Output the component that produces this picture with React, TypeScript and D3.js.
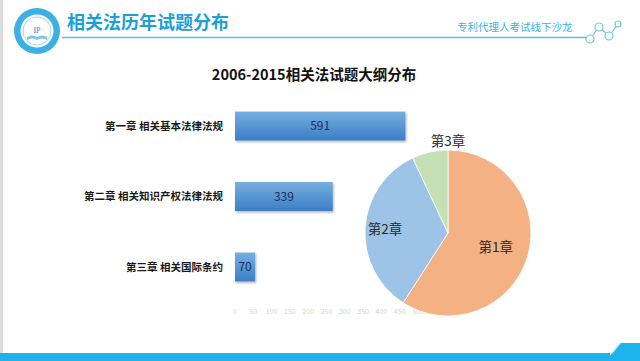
import { FC } from "react";
import * as d3 from "d3";

const W = 640;
const H = 361;

const chapters = ["第一章 相关基本法律法规", "第二章 相关知识产权法律法规", "第三章 相关国际条约"];
const counts = [591, 339, 70];
const pieLabels = ["第1章", "第2章", "第3章"];
const axisTicks = [0, 50, 100, 150, 200, 250, 300, 350, 400, 450, 500];
const pieColors = ["#f4b183", "#9dc3e6", "#c5e0b4"];

const FONT = "'Noto Sans CJK SC', 'Noto Sans', sans-serif";

const App: FC = () => {
  // bars and the printed axis don't share a scale in the original slide
  const x = d3.scaleLinear().domain([0, 600]).range([235, 408]);
  const xAxis = d3.scaleLinear().domain([0, 500]).range([235, 418]);
  const y = d3
    .scaleBand<string>()
    .domain(chapters)
    .range([70, 323])
    .paddingInner(0.59)
    .paddingOuter(0.59);

  const cx = 448;
  const cy = 233;
  const R = 83;
  const pie = d3.pie<number>().sort(null).value((d) => d);
  const arcs = pie(counts);
  const arc = d3.arc<d3.PieArcDatum<number>>().innerRadius(0).outerRadius(R);
  const labelR = [0.6, 0.76];
  const labelPos = (d: d3.PieArcDatum<number>, i: number): [number, number] => {
    if (i < labelR.length) {
      const r = R * labelR[i];
      return d3.arc<d3.PieArcDatum<number>>().innerRadius(r).outerRadius(r).centroid(d);
    }
    const r = R * 1.1;
    return [Math.sin(d.endAngle) * r, -Math.cos(d.endAngle) * r];
  };

  const molecule: [number, number][] = [
    [590, 39],
    [599, 27],
    [609, 36],
    [618, 24],
  ];

  return (
    <svg
      width={W}
      height={H}
      style={{ position: "absolute", left: 0, top: 0, display: "block", background: "#fff" }}
      fontFamily={FONT}
    >
      <defs>
        <linearGradient id="barGrad" x1="0" y1="0" x2="0" y2="1">
          <stop offset="0" stopColor="#76aee0" />
          <stop offset="1" stopColor="#3b7ec6" />
        </linearGradient>
        <filter id="shadow" x="-10%" y="-20%" width="130%" height="160%">
          <feDropShadow dx="1" dy="1.5" stdDeviation="1" floodColor="#000" floodOpacity="0.3" />
        </filter>
      </defs>

      {/* frame */}
      <rect x={0} y={0} width={3} height={H} fill="#dcdcdc" />
      <rect x={0} y={353} width={610} height={8} fill="#1cb4ea" />
      <path d="M620,343 L640,343 L640,361 L606,361 Z" fill="#1cb4ea" />
      <path d="M613,350 L619,343 L621,343 L612,354 Z" fill="#cfeefb" />

      {/* header */}
      <circle cx={37} cy={31} r={23} fill="#3ab0e5" />
      <circle cx={37} cy={31} r={16.5} fill="#fff" />
      <circle cx={37} cy={31} r={14} fill="none" stroke="#9fd6ef" strokeWidth={1} />
      <path d="M27,37 Q32,34 37,37 Q42,34 47,37 L47,40 Q42,37 37,40 Q32,37 27,40 Z" fill="#7cc4e6" />
      <text x={37} y={33} textAnchor="middle" fontSize={8} fontFamily="'Liberation Serif', serif" fill="#3a8cc0">
        IP
      </text>
      <line x1={62} y1={37.5} x2={586} y2={37.5} stroke="#55c0ea" strokeWidth={1.3} />
      <text x={67} y={29} fontSize={18} fontWeight="bold" fill="#1a9fd9">
        相关法历年试题分布
      </text>
      <text x={457} y={31} fontSize={10.5} fill="#3cb2e3">
        专利代理人考试线下沙龙
      </text>
      <polyline
        points={molecule.map((p) => p.join(",")).join(" ")}
        fill="none"
        stroke="#6cc6ea"
        strokeWidth={1.2}
      />
      {molecule.map((p, i) => (
        <circle key={i} cx={p[0]} cy={p[1]} r={i === 3 ? 3 : 4} fill="#fff" stroke="#6cc6ea" strokeWidth={1.2} />
      ))}

      {/* chart title */}
      <text x={314} y={80} textAnchor="middle" fontSize={14.5} fontWeight="bold" fill="#111">
        2006-2015相关法试题大纲分布
      </text>

      {/* bars */}
      {chapters.map((c, i) => {
        const by = y(c)!;
        const bh = y.bandwidth();
        return (
          <g key={c}>
            <text
              x={223}
              y={by + bh / 2}
              dy="0.35em"
              textAnchor="end"
              fontSize={10.5}
              fontWeight="bold"
              fill="#1a1a1a"
            >
              {c}
            </text>
            <rect
              x={x(0)}
              y={by}
              width={x(counts[i]) - x(0)}
              height={bh}
              fill="url(#barGrad)"
              filter="url(#shadow)"
            />
            <text
              x={(x(0) + x(counts[i])) / 2}
              y={by + bh / 2}
              dy="0.36em"
              textAnchor="middle"
              fontSize={12}
              fill="#1b2f5a"
            >
              {counts[i]}
            </text>
          </g>
        );
      })}

      {/* faint axis labels */}
      {axisTicks.map((t) => (
        <text key={t} x={xAxis(t)} y={314} textAnchor="middle" fontSize={7} fill="#d4d4d4">
          {t}
        </text>
      ))}

      {/* pie */}
      <g transform={`translate(${cx},${cy})`}>
        {arcs.map((d, i) => (
          <path key={i} d={arc(d)!} fill={pieColors[i]} stroke="#fff" strokeWidth={0.8} />
        ))}
        {arcs.map((d, i) => {
          const [lx, ly] = labelPos(d, i);
          return (
            <text key={i} x={lx} y={ly} dy="0.35em" textAnchor="middle" fontSize={13.5} fill="#2a2a2a">
              {pieLabels[i]}
            </text>
          );
        })}
      </g>
    </svg>
  );
};

export default App;
